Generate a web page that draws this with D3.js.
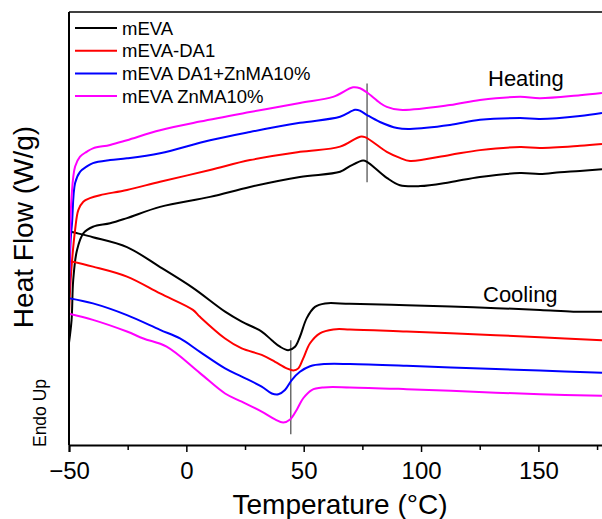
<!DOCTYPE html>
<html>
<head>
<meta charset="utf-8">
<script src="https://cdn.jsdelivr.net/npm/d3@7"></script>
<style>
  body { margin: 0; background: #fff; }
  text { font-family: "Liberation Sans", Arial, sans-serif; }
</style>
</head>
<body>
<div id="viz-container"></div>
<script>
// DSC data, temperature (C) and heat flow (W/g, arbitrary offset)
let names = ["mEVA", "mEVA-DA1", "mEVA DA1+ZnMA10%", "mEVA ZnMA10%"];
let colors = ["#000000", "#ff0000", "#0000ff", "#ff00ff"];

let heatT = [
  [-50, -48.9, -48.2, -46.6, -43.9, -39.8, -32.5, -25.3, -11.2, 10.1, 27.1, 48.4, 65.5, 69.7, 75.3, 77.0, 85.4, 91.0, 99.6, 112.3, 125.1, 142.2, 150.7, 159.2, 167.7, 177.1],
  [-50, -49.3, -47.4, -46.0, -43.9, -41.1, -36.8, -25.3, -11.2, 10.1, 27.1, 48.4, 65.5, 74.0, 76.1, 85.4, 91.0, 95.3, 112.3, 125.1, 142.2, 150.7, 167.7, 177.1],
  [-50, -49.3, -48.7, -47.4, -45.3, -42.5, -39.8, -32.5, -25.3, -11.2, 10.1, 27.1, 48.4, 65.5, 71.9, 74.0, 77.0, 82.5, 89.8, 95.3, 112.3, 125.1, 142.2, 150.7, 167.7, 177.1],
  [-50, -48.9, -47.4, -45.3, -42.5, -39.8, -32.5, -25.3, -11.2, 5.8, 27.1, 48.4, 62.5, 71.0, 74.0, 77.0, 82.5, 85.4, 91.0, 112.3, 125.1, 142.2, 150.7, 167.7, 177.1]
];
let heatV = [
  [2.36, 2.89, 3.81, 4.50, 4.89, 5.04, 5.12, 5.24, 5.50, 5.73, 5.96, 6.19, 6.31, 6.44, 6.57, 6.54, 6.17, 6.00, 5.98, 6.07, 6.19, 6.28, 6.26, 6.30, 6.33, 6.37],
  [2.96, 3.81, 4.97, 5.43, 5.62, 5.70, 5.77, 5.89, 6.08, 6.35, 6.58, 6.77, 6.89, 7.12, 7.11, 6.77, 6.63, 6.56, 6.70, 6.81, 6.88, 6.86, 6.91, 6.95],
  [3.39, 4.73, 5.13, 6.05, 6.31, 6.43, 6.51, 6.58, 6.62, 6.74, 7.04, 7.23, 7.44, 7.58, 7.74, 7.72, 7.62, 7.46, 7.32, 7.30, 7.39, 7.51, 7.55, 7.53, 7.60, 7.67],
  [3.58, 5.73, 6.43, 6.66, 6.77, 6.85, 6.93, 7.04, 7.27, 7.47, 7.69, 7.90, 8.04, 8.26, 8.24, 8.14, 7.90, 7.81, 7.74, 7.85, 7.97, 8.04, 8.01, 8.08, 8.13]
];

let coolT = [
  [-50, -48.7, -39.8, -25.3, -11.2, 2.8, 16.5, 23.6, 32.1, 36.4, 39.9, 43.4, 46.3, 48.4, 51.3, 54.8, 59.1, 69.7, 93.9, 122.3, 150.7, 164.9, 177.1],
  [-50, -39.8, -25.3, -11.2, 2.8, 5.8, 16.5, 23.6, 32.1, 37.8, 42.8, 45.6, 47.7, 49.8, 52.7, 56.9, 62.6, 69.7, 93.9, 122.3, 150.7, 177.1],
  [-50, -39.8, -25.3, -11.2, -2.7, 5.8, 16.5, 23.6, 32.1, 36.4, 39.2, 42.0, 44.9, 48.4, 52.7, 59.1, 69.7, 93.9, 122.3, 150.7, 177.1],
  [-50, -39.8, -25.3, -18.3, -8.4, 5.8, 16.5, 23.6, 32.1, 37.8, 41.3, 44.2, 47.0, 49.8, 53.4, 58.4, 69.7, 93.9, 122.3, 150.7, 177.1]
];
let coolV = [
  [4.94, 4.92, 4.80, 4.57, 4.11, 3.63, 3.08, 2.85, 2.62, 2.42, 2.27, 2.19, 2.27, 2.50, 2.93, 3.19, 3.27, 3.26, 3.23, 3.18, 3.12, 3.08, 3.08],
  [4.25, 4.12, 3.89, 3.50, 3.12, 2.96, 2.46, 2.23, 2.08, 1.92, 1.77, 1.72, 1.77, 2.00, 2.35, 2.58, 2.67, 2.67, 2.62, 2.56, 2.49, 2.42],
  [3.39, 3.27, 3.00, 2.66, 2.46, 2.15, 1.77, 1.58, 1.35, 1.19, 1.17, 1.27, 1.50, 1.69, 1.82, 1.87, 1.87, 1.83, 1.77, 1.72, 1.67],
  [3.03, 2.89, 2.62, 2.46, 2.27, 1.66, 1.19, 1.00, 0.77, 0.59, 0.52, 0.59, 0.81, 1.08, 1.27, 1.33, 1.33, 1.29, 1.23, 1.17, 1.14]
];

let xTicks = [-50, 0, 50, 100, 150];
let xMinor = [-25, 25, 75, 125, 175];
let markT = [77, 44.5];   // peak marker lines
let markV = [[6.07, 8.35], [0.25, 2.42]];

let width = 602, height = 519;
let x = d3.scaleLinear().domain([-50, 180]).range([69, 608.8]);
let y = d3.scaleLinear().domain([0, 10]).range([445, 12]);

let viz = d3.select("#viz-container")
    .append("svg")
        .attr("width", width)
        .attr("height", height)
;

viz.append("clipPath").attr("id", "clip")
    .append("rect")
        .attr("x", 69).attr("y", 12)
        .attr("width", 540).attr("height", 433)
;

let line = d3.line()
    .x(d => x(d[0]))
    .y(d => y(d[1]))
    .curve(d3.curveCatmullRom.alpha(0.5))
;

let plot = viz.append("g").attr("clip-path", "url(#clip)");

// marker lines
markT.forEach((t, i) => {
    plot.append("line")
        .attr("x1", x(t)).attr("x2", x(t))
        .attr("y1", y(markV[i][0])).attr("y2", y(markV[i][1]))
        .attr("stroke", "#555")
        .attr("stroke-width", 1.3)
    ;
});

// curves
names.forEach((n, i) => {
    let heat = heatT[i].map((t, j) => [t, heatV[i][j]]);
    let cool = coolT[i].map((t, j) => [t, coolV[i][j]]);
    [cool, heat].forEach(data => {
        plot.append("path")
            .attr("d", line(data))
            .attr("fill", "none")
            .attr("stroke", colors[i])
            .attr("stroke-width", 2)
            .attr("stroke-linejoin", "round")
        ;
    });
});

// frame
viz.append("line")
    .attr("x1", 69).attr("x2", width).attr("y1", 12).attr("y2", 12)
    .attr("stroke", "#000").attr("stroke-width", 1.3)
;
viz.append("line")
    .attr("x1", 69).attr("x2", 69).attr("y1", 12).attr("y2", 445)
    .attr("stroke", "#000").attr("stroke-width", 2)
;

// x axis
let xAxis = viz.append("g")
    .attr("transform", "translate(0,445)")
    .call(d3.axisBottom(x).tickValues(xTicks).tickSize(7).tickFormat(d3.format("d")))
;
xAxis.select(".domain").attr("stroke-width", 2);
xAxis.selectAll(".tick line").attr("stroke-width", 1.5);
xAxis.selectAll(".tick text")
    .attr("font-size", 24)
    .attr("font-family", "Liberation Sans, Arial, sans-serif")
    .attr("fill", "#000")
    .attr("dy", null)
    .attr("y", 34)
;

viz.append("g")
    .attr("transform", "translate(0,445)")
    .call(d3.axisBottom(x).tickValues(xMinor).tickSize(5).tickFormat(""))
    .call(g => g.select(".domain").remove())
    .selectAll(".tick line").attr("stroke-width", 1.5)
;

// axis titles
viz.append("text")
    .attr("x", 340).attr("y", 514)
    .attr("text-anchor", "middle")
    .attr("font-size", 28)
    .text("Temperature (\u00b0C)")
;
viz.append("text")
    .attr("transform", "translate(33,227) rotate(-90)")
    .attr("text-anchor", "middle")
    .attr("font-size", 28)
    .text("Heat Flow (W/g)")
;
viz.append("text")
    .attr("transform", "translate(46,413) rotate(-90)")
    .attr("text-anchor", "middle")
    .attr("font-size", 17.5)
    .text("Endo Up")
;

// annotations
viz.append("text")
    .attr("x", 488).attr("y", 86)
    .attr("font-size", 22)
    .text("Heating")
;
viz.append("text")
    .attr("x", 483).attr("y", 302)
    .attr("font-size", 22)
    .text("Cooling")
;

// legend
let legend = viz.selectAll(".legendRow").data(names).enter()
    .append("g")
        .attr("class", "legendRow")
        .attr("transform", (d, i) => "translate(0," + (28 + i * 22.7) + ")")
;
legend.append("line")
    .attr("x1", 75).attr("x2", 117)
    .attr("stroke", (d, i) => colors[i])
    .attr("stroke-width", 2)
;
legend.append("text")
    .attr("x", 122).attr("y", 6.5)
    .attr("font-size", 18.5)
    .text(d => d)
;
</script>
</body>
</html>
